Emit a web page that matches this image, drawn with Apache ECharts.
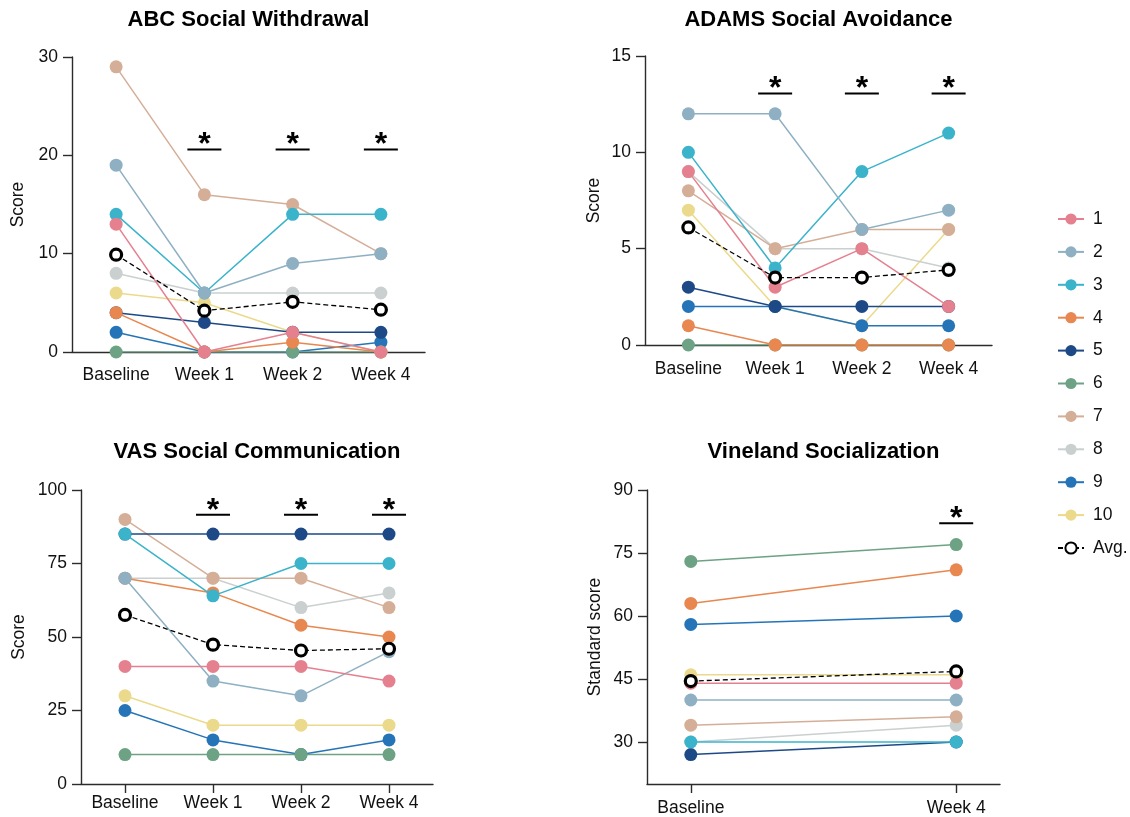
<!DOCTYPE html>
<html><head><meta charset="utf-8">
<script src="https://cdn.jsdelivr.net/npm/echarts@6/dist/echarts.min.js"></script>
<style>html,body{margin:0;padding:0;background:#fff}#c{width:1130px;height:817px}</style>
</head><body><div id="c"></div>
<script>
// ---------- data ----------
const weeks4 = ['Baseline', 'Week 1', 'Week 2', 'Week 4'];
const weeks2 = ['Baseline', 'Week 4'];
const subjects = ['1', '2', '3', '4', '5', '6', '7', '8', '9', '10'];
const avgName = 'Avg.';
const colors = ['#E5808F', '#8EB0C2', '#3AB3CB', '#E8874F', '#1D4A86', '#6DA284', '#D5AE98', '#C9D0CF', '#2574B8', '#EBDA8C'];

const abcScores = [
  [13, 0, 2, 0], [19, 6, 9, 10], [14, 6, 14, 14], [4, 0, 1, 0], [4, 3, 2, 2],
  [0, 0, 0, 0], [29, 16, 15, 10], [8, 6, 6, 6], [2, 0, 0, 1], [6, 5, 2, 0]
];
const abcAvg = [9.9, 4.2, 5.1, 4.3];
const abcSig = [1, 2, 3];
const abcSigY = 20.6;

const adamsScores = [
  [9, 3, 5, 2], [12, 12, 6, 7], [10, 4, 9, 11], [1, 0, 0, 0], [3, 2, 2, 2],
  [0, 0, 0, 0], [8, 5, 6, 6], [9, 5, 5, 4], [2, 2, 1, 1], [7, 2, 1, 6]
];
const adamsAvg = [6.1, 3.5, 3.5, 3.9];
const adamsSig = [1, 2, 3];
const adamsSigY = 13.05;

const vasScores = [
  [40, 40, 40, 35], [70, 35, 30, 45], [85, 64, 75, 75], [70, 65, 54, 50], [85, 85, 85, 85],
  [10, 10, 10, 10], [90, 70, 70, 60], [70, 70, 60, 65], [25, 15, 10, 15], [30, 20, 20, 20]
];
const vasAvg = [57.5, 47.4, 45.4, 46];
const vasSig = [1, 2, 3];
const vasSigY = 91.6;

const vinScores = [
  [44, 44], [40, 40], [30, 30], [63, 71], [27, 30],
  [73, 77], [34, 36], [30, 34], [58, 60], [46, 46]
];
const vinAvg = [44.5, 46.8];
const vinSig = [1];
const vinSigY = 82.1;
const vinTicks = [30, 45, 60, 75, 90];

// ---------- layout ----------
const FONT = 'Liberation Sans, Arial, Helvetica, sans-serif';
const grids = [
  { left: 72, top: 57, width: 353, height: 295 },
  { left: 645, top: 56, width: 347, height: 289 },
  { left: 81, top: 490, width: 352, height: 294 },
  { left: 647, top: 490, width: 353, height: 294 }
];
const titles = ['ABC Social Withdrawal', 'ADAMS Social Avoidance', 'VAS Social Communication', 'Vineland Socialization'];
const titleY = [20, 20, 452, 452];

const axisColor = '#2b2b2b';

function xAxis(p, labels, xmin, xmax, tickLen, margin) {
  const idx = labels.map((_, i) => i);
  return {
    type: 'value', gridIndex: p, min: xmin, max: xmax,
    axisLine: { show: true, onZero: false, lineStyle: { color: axisColor, width: 1.4 } },
    axisTick: { show: true, customValues: idx, length: tickLen, lineStyle: { color: axisColor, width: 1.4 } },
    axisLabel: { show: true, customValues: idx, formatter: v => labels[Math.round(v)], fontSize: 17.5, color: '#111', fontFamily: FONT, margin: margin },
    splitLine: { show: false }
  };
}
function yAxis(p, opts) {
  const base = {
    type: 'value', gridIndex: p, min: opts.min, max: opts.max,
    name: opts.name, nameLocation: 'middle', nameGap: opts.nameGap, nameRotate: 90,
    nameTextStyle: { fontSize: 17.5, color: '#111', fontFamily: FONT },
    axisLine: { show: true, onZero: false, lineStyle: { color: axisColor, width: 1.4 } },
    axisTick: { show: true, length: 9, lineStyle: { color: axisColor, width: 1.4 } },
    axisLabel: { fontSize: 17.5, color: '#111', fontFamily: FONT, margin: 14 },
    splitLine: { show: false }
  };
  if (opts.interval) base.interval = opts.interval;
  if (opts.ticks) { base.axisTick.customValues = opts.ticks; base.axisLabel.customValues = opts.ticks; }
  return base;
}

const panels = [
  { scores: abcScores, avg: abcAvg, sig: abcSig, sigY: abcSigY },
  { scores: adamsScores, avg: adamsAvg, sig: adamsSig, sigY: adamsSigY },
  { scores: vasScores, avg: vasAvg, sig: vasSig, sigY: vasSigY },
  { scores: vinScores, avg: vinAvg, sig: vinSig, sigY: vinSigY }
];

const series = [];
panels.forEach((pn, p) => {
  pn.scores.forEach((vals, i) => {
    series.push({
      type: 'line', name: subjects[i], xAxisIndex: p, yAxisIndex: p,
      data: vals.map((v, k) => [k, v]),
      z: 20 - i, symbol: 'circle', symbolSize: 13, showSymbol: true,
      color: colors[i],
      lineStyle: { color: colors[i], width: 1.5 },
      itemStyle: { color: colors[i] },
      emphasis: { disabled: true }, animation: false
    });
  });
  series.push({
    type: 'line', name: avgName, xAxisIndex: p, yAxisIndex: p,
    data: pn.avg.map((v, k) => [k, v]),
    z: 25, symbol: 'circle', symbolSize: 11,
    color: '#000',
    lineStyle: { color: '#000', width: 1.3, type: [5, 3] },
    itemStyle: { color: '#fff', borderColor: '#000', borderWidth: 3.2 },
    emphasis: { disabled: true }, animation: false
  });
  series.push({
    type: 'custom', name: 'sig' + p, xAxisIndex: p, yAxisIndex: p, z: 30, silent: true, animation: false,
    data: pn.sig.map(x => [x, pn.sigY]),
    renderItem: (params, api) => {
      const c = api.coord([api.value(0), api.value(1)]);
      return {
        type: 'group', children: [
          { type: 'line', shape: { x1: c[0] - 17, y1: c[1], x2: c[0] + 17, y2: c[1] }, style: { stroke: '#000', lineWidth: 2 } },
          { type: 'text', x: c[0], y: c[1] - 4, style: { text: '*', fontSize: 32, fontWeight: 'bold', fill: '#000', align: 'center', verticalAlign: 'middle', fontFamily: FONT } }
        ]
      };
    }
  });
});

const graphic = titles.map((t, p) => ({
  type: 'text', x: grids[p].left + grids[p].width / 2, y: titleY[p],
  style: { text: t, fontSize: 22, fontWeight: 'bold', fill: '#000', align: 'center', verticalAlign: 'middle', fontFamily: FONT }
}));

const option = {
  backgroundColor: '#fff',
  animation: false,
  grid: grids,
  xAxis: [
    xAxis(0, weeks4, -0.5, 3.5, 4, 14),
    xAxis(1, weeks4, -0.5, 3.5, 4, 15),
    xAxis(2, weeks4, -0.5, 3.5, 9, 10),
    xAxis(3, weeks2, -0.165, 1.165, 9, 15)
  ],
  yAxis: [
    yAxis(0, { min: 0, max: 30, interval: 10, name: 'Score', nameGap: 45 }),
    yAxis(1, { min: 0, max: 15, interval: 5, name: 'Score', nameGap: 42 }),
    yAxis(2, { min: 0, max: 100, interval: 25, name: 'Score', nameGap: 53 }),
    yAxis(3, { min: 20, max: 90, ticks: vinTicks, name: 'Standard score', nameGap: 43 })
  ],
  legend: {
    data: subjects.concat([avgName]),
    orient: 'vertical', left: 1052, top: 205,
    itemWidth: 26, itemHeight: 14, itemGap: 14.9,
    textStyle: { fontSize: 17.5, color: '#111', fontFamily: FONT, padding: [0, 0, 0, 4] },
    selectedMode: false
  },
  graphic: graphic,
  series: series
};

const chart = echarts.init(document.getElementById('c'), null, { renderer: 'canvas' });
chart.setOption(option);
</script>
</body></html>
